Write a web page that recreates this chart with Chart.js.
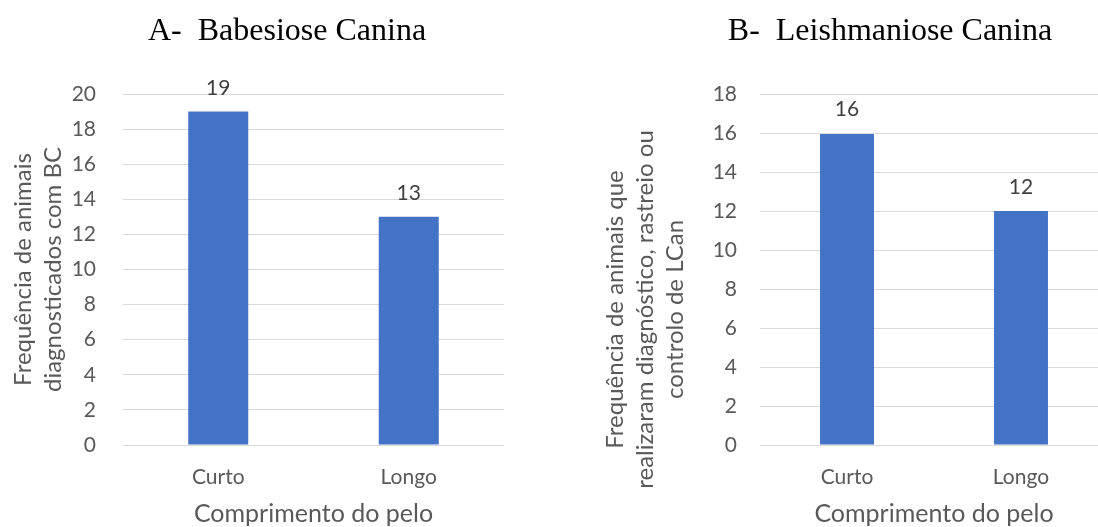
<!DOCTYPE html>
<html lang="pt">
<head>
<meta charset="utf-8">
<title>Comprimento do pelo</title>
<script src="https://cdn.jsdelivr.net/npm/chart.js@4"></script>
<style>
  html, body { margin: 0; padding: 0; background: #fff; }
  body { position: relative; width: 1098px; height: 527px; overflow: hidden; }
  canvas { position: absolute; top: 0; }
  #chartA { left: 0; }
  #chartB { left: 590px; }
</style>
</head>
<body>
<canvas id="chartA" width="574" height="527"></canvas>
<canvas id="chartB" width="602" height="527"></canvas>
<script>
const categories = ['Curto', 'Longo'];
const babesioseValues = [19, 13];
const leishmanioseValues = [16, 12];
const babesioseMax = 20;
const leishmanioseMax = 18;
const tickStep = 2;

const barColor = '#4472C4';
const textColor = '#595959';
const sansFont = "Lato, 'Open Sans', sans-serif";
const serifFont = "'Liberation Serif', 'Times New Roman', serif";

// value labels above each bar
const barLabels = {
  id: 'barLabels',
  afterDatasetsDraw(chart) {
    const ctx = chart.ctx;
    const values = chart.data.datasets[0].data;
    ctx.save();
    ctx.font = '21px ' + sansFont;
    ctx.fillStyle = '#404040';
    ctx.textAlign = 'center';
    ctx.textBaseline = 'alphabetic';
    chart.getDatasetMeta(0).data.forEach((bar, i) => {
      ctx.fillText(values[i], bar.x, bar.y - 17);
    });
    ctx.restore();
  }
};

// after layout: slide the chart title sideways and the y scale box down,
// so the title and the y axis title land where they belong
const boxShift = {
  id: 'boxShift',
  afterLayout(chart, args, opts) {
    if (opts.titleDx && chart.titleBlock) {
      chart.titleBlock.left += opts.titleDx;
      chart.titleBlock.right += opts.titleDx;
    }
    if (opts.yDy) {
      chart.scales.y.top += opts.yDy;
      chart.scales.y.bottom += opts.yDy;
    }
  }
};

function makeChart(id, title, values, max, yTitle, o) {
  return new Chart(document.getElementById(id), {
    type: 'bar',
    data: {
      labels: categories,
      datasets: [{
        data: values,
        backgroundColor: barColor,
        categoryPercentage: 1,
        barPercentage: o.barPct
      }]
    },
    plugins: [barLabels, boxShift],
    options: {
      responsive: false,
      animation: false,
      layout: { padding: { left: 0, right: o.padRight, top: 0, bottom: 0 } },
      plugins: {
        legend: { display: false },
        tooltip: { enabled: false },
        title: {
          display: true,
          text: title,
          color: '#000',
          font: { family: serifFont, size: 32, weight: 'normal', lineHeight: 1.2 },
          padding: { top: 12, bottom: 43.6 }
        },
        boxShift: { titleDx: o.titleDx, yDy: o.yDy }
      },
      scales: {
        x: {
          grid: { display: false },
          border: { display: false },
          ticks: { color: textColor, font: { family: sansFont, size: 21 }, padding: 12 },
          title: {
            display: true,
            text: 'Comprimento do pelo',
            color: textColor,
            font: { family: sansFont, size: 25, lineHeight: 1 },
            padding: { top: 0, bottom: 1 }
          },
          afterFit(scale) { scale.height = 82; }
        },
        y: {
          min: 0,
          max: max,
          grid: { color: '#d9d9d9', lineWidth: 1, drawTicks: false },
          border: { display: false },
          ticks: { stepSize: tickStep, color: textColor, font: { family: sansFont, size: 21 }, padding: o.tickPad },
          title: {
            display: true,
            text: yTitle,
            color: textColor,
            font: { family: sansFont, size: 24, lineHeight: '30px' },
            padding: { top: o.titlePad, bottom: 0 }
          },
          afterFit(scale) { scale.width = o.axisWidth; }
        }
      }
    }
  });
}

makeChart('chartA', 'A-  Babesiose Canina', babesioseValues, babesioseMax,
  ['Frequência de animais', 'diagnosticados com BC'],
  { padRight: 70, axisWidth: 123, tickPad: 27, titlePad: 8, titleDx: 35, yDy: 0, barPct: 0.315 });

makeChart('chartB', 'B-  Leishmaniose Canina', leishmanioseValues, leishmanioseMax,
  ['Frequência de animais que', 'realizaram diagnóstico, rastreio ou', 'controlo de LCan'],
  { padRight: 84, axisWidth: 170, tickPad: 23, titlePad: 10, titleDx: 41, yDy: 40, barPct: 0.31 });
</script>
</body>
</html>
